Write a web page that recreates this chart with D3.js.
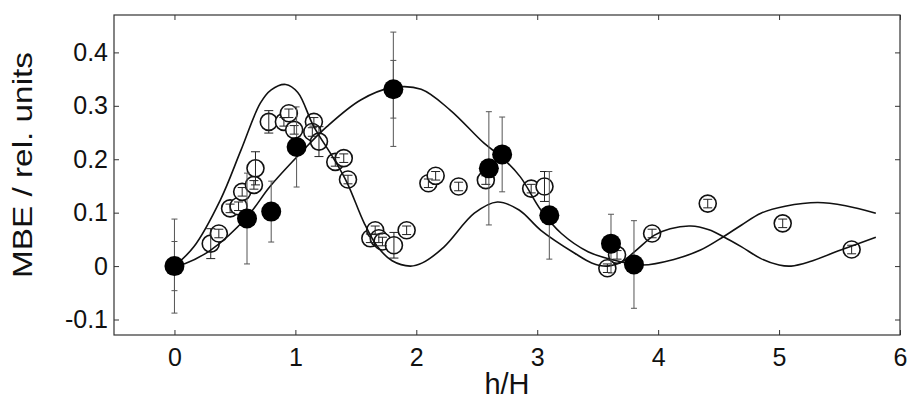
<!DOCTYPE html>
<html lang="en">
<head>
<meta charset="UTF-8">
<title>MBE vs h/H</title>
<script src="https://cdn.jsdelivr.net/npm/d3@7"></script>
<style>
  body { margin: 0; background: #fff; }
  svg { display: block; font-family: "Liberation Sans", Arial, sans-serif; }
</style>
</head>
<body>
<div id="chart"></div>
<script>
const xTicks = [0, 1, 2, 3, 4, 5, 6]
const xTickLabels = ["0", "1", "2", "3", "4", "5", "6"]
const yTicks = [-0.1, 0, 0.1, 0.2, 0.3, 0.4]
const yTickLabels = ["-0.1", "0", "0.1", "0.2", "0.3", "0.4"]

// filled circles with error bars
const filledX = [0, 0.6, 0.8, 1.01, 1.81, 2.6, 2.71, 3.1, 3.61, 3.8]
const filledY = [0, 0.089, 0.102, 0.223, 0.331, 0.183, 0.209, 0.095, 0.042, 0.003]
const filledErr = [0.088, 0.085, 0.057, 0.075, 0.107, 0.106, 0.07, 0.082, 0.055, 0.082]
const filledErrInner = [0.046, 0, 0, 0, 0.054, 0, 0, 0, 0, 0]

// open circles
const openX = [0.30, 0.367, 0.46, 0.53, 0.56, 0.657, 0.67, 0.78, 0.905, 0.946, 0.99, 1.153, 1.14, 1.195,
  1.33, 1.40, 1.435, 1.62, 1.66, 1.69, 1.72, 1.815, 1.92, 2.10, 2.16, 2.35, 2.575, 2.95, 3.06,
  3.58, 3.66, 3.95, 4.41, 5.03, 5.60]
const openY = [0.042, 0.061, 0.108, 0.112, 0.139, 0.152, 0.183, 0.270, 0.270, 0.286, 0.255, 0.270, 0.251, 0.233,
  0.195, 0.202, 0.162, 0.052, 0.067, 0.052, 0.046, 0.039, 0.067, 0.155, 0.169, 0.149, 0.161, 0.145, 0.149,
  -0.004, 0.021, 0.061, 0.117, 0.080, 0.031]
const openErr = [0.028, 0.008, 0.008, 0.008, 0.008, 0.008, 0.031, 0.021, 0.008, 0.008, 0.008, 0.008, 0.008, 0.028,
  0.008, 0.008, 0.008, 0.008, 0.008, 0.008, 0.008, 0.024, 0.008, 0.008, 0.008, 0.008, 0.008, 0.008, 0.028,
  0.008, 0.008, 0.008, 0.008, 0.008, 0.008]

// model curves
const curveAX = [0, 0.16, 0.38, 0.55, 0.71, 0.80, 0.92, 1.02, 1.15, 1.32, 1.43, 1.57, 1.68, 1.80, 1.95, 2.05,
  2.23, 2.48, 2.67, 2.85, 3.03, 3.31, 3.45, 3.58, 3.70, 3.82, 3.97, 4.10, 4.27, 4.42, 4.54, 4.69, 4.85,
  5.00, 5.10, 5.25, 5.51, 5.80]
const curveAY = [0, 0.036, 0.124, 0.217, 0.305, 0.330, 0.340, 0.325, 0.262, 0.200, 0.155, 0.080, 0.036, 0.010, 0, 0.006,
  0.036, 0.099, 0.120, 0.105, 0.067, 0.024, 0.006, 0.0, 0.008, 0.030, 0.058, 0.070, 0.075, 0.068, 0.055, 0.036, 0.014,
  0.002, 0, 0.008, 0.030, 0.054]
const curveBX = [0, 0.09, 0.30, 0.60, 0.79, 1.04, 1.26, 1.54, 1.80, 2.04, 2.28, 2.56, 2.70, 2.86, 3.03, 3.20,
  3.42, 3.69, 3.87, 4.13, 4.35, 4.54, 4.69, 4.85, 5.05, 5.32, 5.55, 5.80]
const curveBY = [0, 0.005, 0.030, 0.092, 0.149, 0.211, 0.261, 0.311, 0.334, 0.331, 0.292, 0.230, 0.205, 0.167, 0.105, 0.061,
  0.027, 0.008, 0.002, 0.0125, 0.030, 0.055, 0.077, 0.099, 0.112, 0.119, 0.113, 0.099]

const width = 909
const height = 401
const margin = {left: 114, right: 9, top: 15, bottom: 66}

const svg = d3.select("#chart").append("svg")
  .attr("width", width)
  .attr("height", height)

const x = d3.scaleLinear().domain([-0.5, 6]).range([margin.left, width - margin.right])
const y = d3.scaleLinear().domain([-0.129, 0.47]).range([height - margin.bottom, margin.top])

const ink = "#111"

// axes, ticks pointing inward
const axisB = svg.append("g").attr("transform", `translate(0,${height - margin.bottom})`)
  .call(d3.axisBottom(x).tickValues(xTicks).tickSize(-5).tickPadding(13).tickFormat((d, i) => xTickLabels[i]))
const axisT = svg.append("g").attr("transform", `translate(0,${margin.top})`)
  .call(d3.axisTop(x).tickValues(xTicks).tickSize(-5).tickFormat(""))
const axisL = svg.append("g").attr("transform", `translate(${margin.left},0)`)
  .call(d3.axisLeft(y).tickValues(yTicks).tickSize(-5).tickPadding(6).tickFormat((d, i) => yTickLabels[i]))
const axisR = svg.append("g").attr("transform", `translate(${width - margin.right},0)`)
  .call(d3.axisRight(y).tickValues(yTicks).tickSize(-5).tickFormat(""))

svg.selectAll(".domain").remove()
svg.selectAll(".tick line").attr("stroke", "#333")
svg.selectAll(".tick text").attr("font-size", 25).attr("fill", ink)
  .attr("font-family", "'Liberation Sans', Arial, sans-serif")

svg.append("rect")
  .attr("x", margin.left).attr("y", margin.top)
  .attr("width", width - margin.left - margin.right)
  .attr("height", height - margin.top - margin.bottom)
  .attr("fill", "none").attr("stroke", "#333").attr("stroke-width", 1.2)

// axis titles
svg.append("text")
  .attr("x", 507).attr("y", 394)
  .attr("text-anchor", "middle")
  .attr("font-size", 29).attr("fill", ink)
  .text("h/H")

svg.append("text")
  .attr("transform", "translate(32,165) rotate(-90)")
  .attr("text-anchor", "middle")
  .attr("font-size", 28).attr("fill", ink)
  .attr("textLength", 226).attr("lengthAdjust", "spacingAndGlyphs")
  .text("MBE / rel. units")

const openData = openX.map((d, i) => ({x: d, y: openY[i], e: openErr[i]}))
const filledData = filledX.map((d, i) => ({x: d, y: filledY[i], e: filledErr[i], e2: filledErrInner[i]}))

function errBars(g, data, key, cap, color) {
  g.selectAll("line.v").data(data.filter(d => d[key] > 0)).enter().append("line")
    .attr("class", "v")
    .attr("x1", d => x(d.x)).attr("x2", d => x(d.x))
    .attr("y1", d => y(d.y - d[key])).attr("y2", d => y(d.y + d[key]))
    .attr("stroke", color).attr("stroke-width", 1)
  const caps = []
  data.forEach(d => { if (d[key] > 0) { caps.push({x: d.x, y: d.y - d[key]}); caps.push({x: d.x, y: d.y + d[key]}) } })
  g.selectAll("line.c").data(caps).enter().append("line")
    .attr("class", "c")
    .attr("x1", d => x(d.x) - cap).attr("x2", d => x(d.x) + cap)
    .attr("y1", d => y(d.y)).attr("y2", d => y(d.y))
    .attr("stroke", color).attr("stroke-width", 1)
}

const plot = svg.append("g")

plot.selectAll("circle.open").data(openData).enter().append("circle")
  .attr("class", "open")
  .attr("cx", d => x(d.x)).attr("cy", d => y(d.y)).attr("r", 8.5)
  .attr("fill", "#fff").attr("stroke", ink).attr("stroke-width", 1.6)

errBars(plot.append("g"), openData, "e", 4.5, "#222")

// curves
const line = d3.line().x(d => x(d[0])).y(d => y(d[1])).curve(d3.curveCatmullRom.alpha(0.5))
plot.append("path")
  .attr("d", line(curveAX.map((d, i) => [d, curveAY[i]])))
  .attr("fill", "none").attr("stroke", ink).attr("stroke-width", 1.6)
plot.append("path")
  .attr("d", line(curveBX.map((d, i) => [d, curveBY[i]])))
  .attr("fill", "none").attr("stroke", ink).attr("stroke-width", 1.6)

// filled circles with error bars
errBars(plot.append("g"), filledData, "e", 3, "#555")
errBars(plot.append("g"), filledData, "e2", 3, "#555")

plot.selectAll("circle.filled").data(filledData).enter().append("circle")
  .attr("class", "filled")
  .attr("cx", d => x(d.x)).attr("cy", d => y(d.y)).attr("r", 10)
  .attr("fill", "#000")
</script>
</body>
</html>
